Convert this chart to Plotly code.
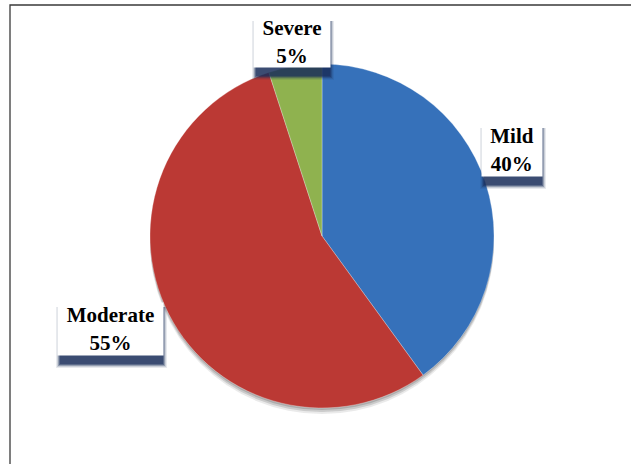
import plotly.graph_objects as go

categories = ["Mild", "Moderate", "Severe"]
values = [40, 55, 5]
colors = ["#3671BA", "#BB3934", "#8FB24F"]

W, H = 631, 464
cx, cy, r = 322, 236, 172  # pie centre/radius in pixels

def px(x):
    return x / W

def py(y):
    return 1 - y / H

fig = go.Figure()
fig.add_trace(go.Pie(
    labels=categories, values=values, sort=False, direction="clockwise",
    rotation=0, textinfo="none", showlegend=False,
    marker=dict(colors=colors, line=dict(color="rgba(255,255,255,0.6)", width=0.5)),
    domain=dict(x=[px(cx - r), px(cx + r)], y=[py(cy + r), py(cy - r)]),
))

shapes = []
# border of chart area
shapes.append(dict(type="rect", xref="paper", yref="paper",
                   x0=px(10), x1=1.05, y0=-0.05, y1=py(5),
                   line=dict(color="#3a3a3a", width=1.3), fillcolor="rgba(0,0,0,0)", layer="below"))
# pie drop shadow
for off, op in [(6, 0.12), (4, 0.2), (2, 0.25)]:
    shapes.append(dict(type="circle", xref="paper", yref="paper",
                       x0=px(cx - r), x1=px(cx + r), y0=py(cy + r + off), y1=py(cy - r + off),
                       line=dict(width=0), fillcolor=f"rgba(80,80,80,{op})", layer="below"))

# label boxes: (center x, center y, width, height)
boxes = {
    "Severe": (292, 42, 76, 50),
    "Mild": (512, 150, 60, 52),
    "Moderate": (110.5, 329, 105, 52),
}
pct = {c: f"{v}%" for c, v in zip(categories, values)}

for cat, (bx, by, bw, bh) in boxes.items():
    left, right = bx - bw / 2, bx + bw / 2
    top, bottom = by - bh / 2, by + bh / 2
    # soft shadow: faint halo, darker core below the box
    for gl, gr, dy, op in [(2, 4, 13, 0.1), (1, 3, 12, 0.15), (0, 2, 11, 0.3), (-1, 1, 10, 0.45), (-2, 0, 9, 0.5)]:
        shapes.append(dict(type="rect", xref="paper", yref="paper",
                           x0=px(left - gl), x1=px(right + gr),
                           y0=py(bottom + dy), y1=py(top + 4),
                           line=dict(width=0), fillcolor=f"rgba(25,45,90,{op})", layer="above"))
    fig.add_annotation(
        x=px(bx), y=py(by), xref="paper", yref="paper", xanchor="center", yanchor="middle",
        text=f"<b>{cat}</b><br><b>{pct[cat]}</b>", showarrow=False,
        font=dict(family="Liberation Serif, Times New Roman, serif", size=21, color="black"),
        bgcolor="white", width=bw, height=bh, borderpad=0, align="center",
    )

fig.update_layout(
    width=W, height=H, margin=dict(l=0, r=0, t=0, b=0),
    paper_bgcolor="white", plot_bgcolor="white", shapes=shapes,
)

fig.write_html("out.html")
